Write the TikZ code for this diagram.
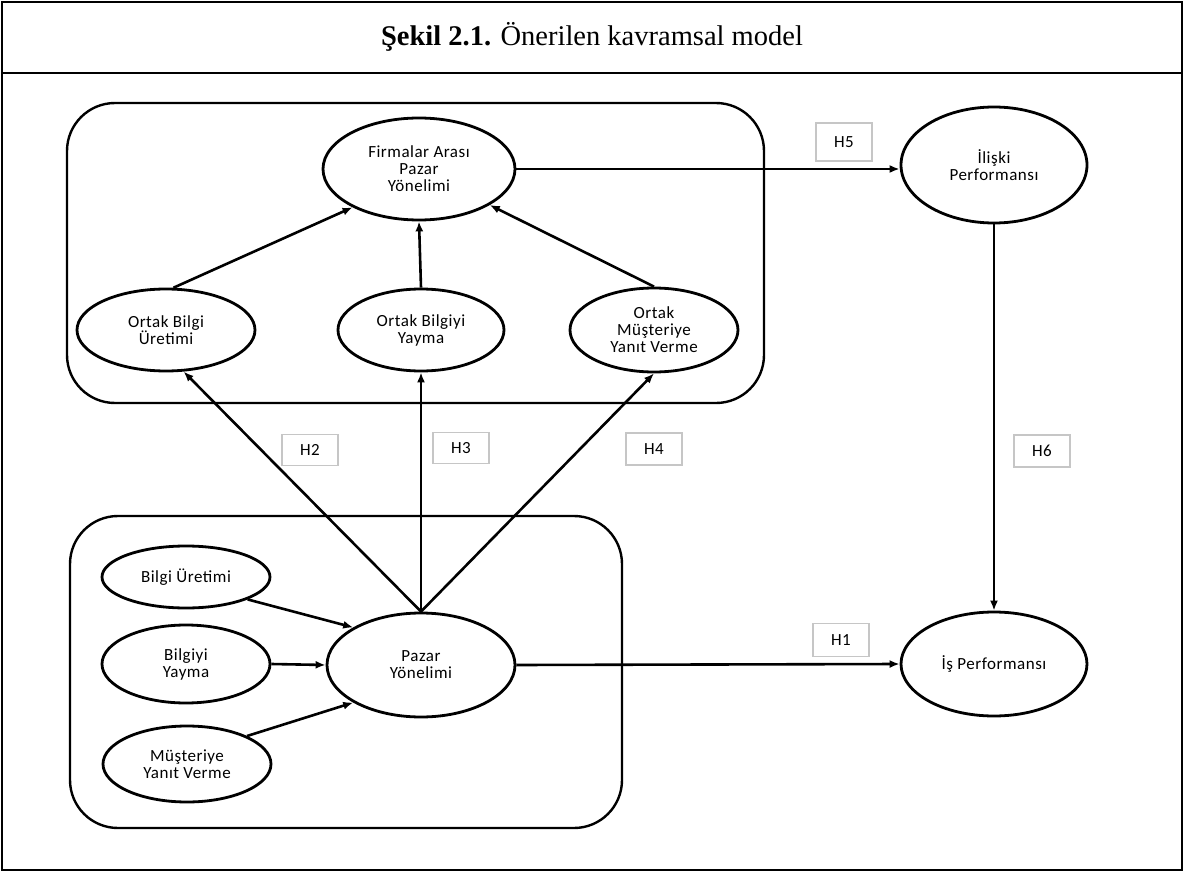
\documentclass[tikz,border=0pt]{standalone}
\usepackage{fontspec}
\setmainfont{Liberation Serif}
\newfontfamily\lblfont[LetterSpace=3]{Carlito}
\usetikzlibrary{shapes.geometric,arrows.meta}
\begin{document}
\begin{tikzpicture}[x=1pt,y=-1pt,
  ell/.style={ellipse,draw,line width=2.8pt,inner sep=0pt,align=center,
    font=\lblfont\fontsize{17}{17}\selectfont},
  grp/.style={draw,line width=2.4pt,rounded corners=48pt},
  hbox/.style={draw=gray!45,line width=1.2pt,minimum width=56pt,minimum height=33pt,
    inner sep=0pt,font=\lblfont\fontsize{17}{17}\selectfont},
  arr/.style={line width=2.6pt,-{Latex[length=10pt,width=8pt]}},
  frame/.style={line width=2.2pt}
]
\useasboundingbox (0,0) rectangle (1184,872);
% frame and title
\draw[frame] (2,2) rectangle (1182,870);
\draw[frame] (2,73) -- (1182,73);
\node (title) at (592,37) {\fontsize{28.5}{30}\selectfont\textbf{Şekil 2.1.} Önerilen kavramsal model};

% group boxes
\draw[grp] (67,103) rectangle (764,403);
\draw[grp] (70,516) rectangle (622,828);

% ellipses
\node[ell,minimum width=192pt,minimum height=102pt] (fam) at (419,169) {Firmalar Arası\\Pazar\\Yönelimi};
\node[ell,minimum width=178pt,minimum height=82pt] (obu) at (166,330) {Ortak Bilgi\\Üretimi};
\node[ell,minimum width=166pt,minimum height=82pt] (oby) at (421,330) {Ortak Bilgiyi\\Yayma};
\node[ell,minimum width=168pt,minimum height=84pt] (om) at (654,330) {Ortak\\Müşteriye\\Yanıt Verme};
\node[ell,minimum width=186pt,minimum height=116pt] (il) at (994,165) {İlişki\\Performansı};
\node[ell,minimum width=168pt,minimum height=62pt] (bu) at (186,577) {Bilgi Üretimi};
\node[ell,minimum width=168pt,minimum height=78pt] (by) at (186,664) {Bilgiyi\\Yayma};
\node[ell,minimum width=168pt,minimum height=76pt] (mu) at (187,764) {Müşteriye\\Yanıt Verme};
\node[ell,minimum width=188pt,minimum height=104pt] (pz) at (421,665) {Pazar\\Yönelimi};
\node[ell,minimum width=186pt,minimum height=104pt] (is) at (994,664) {İş Performansı};

% hypothesis labels
\node[hbox,minimum height=38pt] (h5) at (844,142) {H5};
\node[hbox,minimum height=31pt] (h2) at (310,450) {H2};
\node[hbox,minimum height=31pt] (h3) at (461,448) {H3};
\node[hbox,minimum height=32pt] (h4) at (654,449) {H4};
\node[hbox,minimum height=32pt] (h6) at (1042,451) {H6};
\node[hbox] (h1) at (841,640) {H1};

% arrows inside top group
\draw[arr] (obu.80) -- (fam.210);
\draw[arr] (oby.north) -- (fam.south);
\draw[arr] (om.north) -- (fam.-27);

% arrows from Pazar Yönelimi
\draw[arr] (pz.north) -- (obu.-67);
\draw[arr] (pz.north) -- (oby.south);
\draw[arr] (pz.north) -- (om.south);

% arrows inside bottom group
\draw[arr] (bu.-20) -- (pz.151);
\draw[arr] (by.east) -- (pz.west);
\draw[arr] (mu.25) -- (pz.209);

% outcome arrows
\draw[arr] (fam.east) -- (fam.east -| il.west);
\draw[arr] (il.south) -- (is.north);
\draw[arr] (pz.east) -- (is.west);
\end{tikzpicture}
\end{document}
